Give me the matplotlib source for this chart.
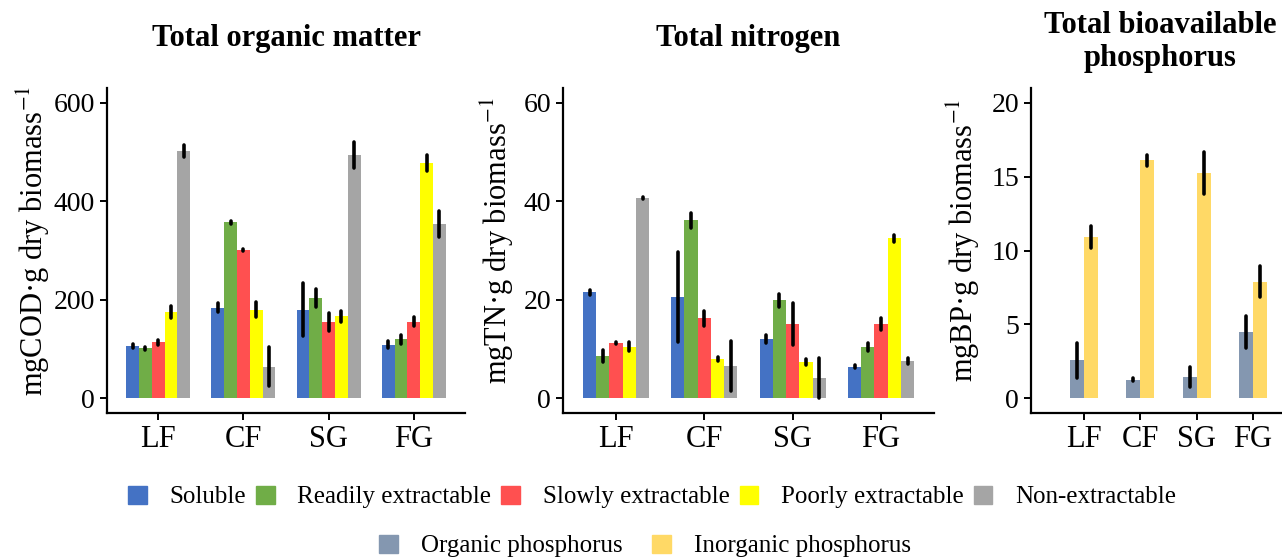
import matplotlib
matplotlib.use("Agg")
import matplotlib.pyplot as plt
from matplotlib.patches import Patch
import numpy as np

plt.rcParams["font.family"] = ["Liberation Serif", "DejaVu Serif"]
plt.rcParams["mathtext.fontset"] = "stix"

sites = ["LF", "CF", "SG", "FG"]
fractions = ["Soluble", "Readily extractable", "Slowly extractable",
             "Poorly extractable", "Non-extractable"]
fraction_colors = ["#4472C4", "#70AD47", "#FF5050", "#FFFF00", "#A5A5A5"]

# rows = fractions, columns = sites
cod_mean = [
    [106, 184, 180, 109],
    [101, 357, 204, 120],
    [114, 301, 155, 155],
    [175, 180, 166, 478],
    [502, 64, 494, 354],
]
cod_err = [
    [4, 9.5, 54, 7],
    [3, 3, 18.5, 9],
    [5, 3, 19, 9],
    [12, 16, 11, 16],
    [13, 40, 26, 26],
]
tn_mean = [
    [21.5, 20.5, 12.1, 6.35],
    [8.6, 36.1, 19.9, 10.4],
    [11.2, 16.2, 15.1, 15.1],
    [10.5, 7.9, 7.3, 32.5],
    [40.7, 6.6, 4.1, 7.5],
]
tn_err = [
    [0.5, 9.1, 0.8, 0.3],
    [1.15, 1.6, 1.35, 0.85],
    [0.2, 1.6, 4.2, 1.2],
    [0.9, 0.4, 0.6, 0.7],
    [0.2, 5.1, 4.1, 0.65],
]

p_forms = ["Organic phosphorus", "Inorganic phosphorus"]
p_colors = ["#8497B0", "#FFD966"]
bp_mean = [
    [2.57, 1.24, 1.44, 4.48],
    [10.92, 16.1, 15.25, 7.9],
]
bp_err = [
    [1.17, 0.1, 0.7, 1.08],
    [0.75, 0.37, 1.45, 1.08],
]

W, H = 1282, 560
fig = plt.figure(figsize=(W / 100, H / 100), dpi=100)


def make_axes(left, right, top=88, bottom=413):
    return fig.add_axes([left / W, (H - bottom) / H, (right - left) / W, (bottom - top) / H])


def style(ax, ylim, yticks, ylabel, label_x, xlim=(-0.6, 3.6)):
    ax.set_xlim(*xlim)
    ax.set_ylim(*ylim)
    ax.set_yticks(yticks)
    ax.set_xticks(range(len(sites)))
    ax.set_xticklabels(sites)
    for s in ["top", "right"]:
        ax.spines[s].set_visible(False)
    for s in ["left", "bottom"]:
        ax.spines[s].set_linewidth(1.6)
    ax.tick_params(axis="y", labelsize=20, length=5, width=1.4, colors="black")
    ax.tick_params(axis="x", labelsize=22, length=5, width=1.4, colors="black")
    ax.set_ylabel(ylabel, fontsize=22)
    # label_x: right edge of the rotated label, in axes fraction
    ax.yaxis.set_label_coords(label_x, 0.53)


def draw_group(ax, means, errs, colors, total_width):
    n = len(means)
    bw = total_width / n
    x = np.arange(len(sites))
    for i in range(n):
        pos = x + (i - (n - 1) / 2) * bw
        m = np.array(means[i])
        e = np.array(errs[i])
        ax.bar(pos, m, width=bw, color=colors[i], linewidth=0, zorder=2)
        lc = ax.vlines(pos, m - e, m + e, colors="black", linewidth=2.6, zorder=3)
        lc.set_capstyle("round")


ax1 = make_axes(107, 465)
draw_group(ax1, cod_mean, cod_err, fraction_colors, 0.75)
style(ax1, (-30, 630), [0, 200, 400, 600], "mgCOD·g dry biomass$^{-1}$", -0.155)
ax1.set_title("Total organic matter", fontsize=22, fontweight="bold", pad=30)

ax2 = make_axes(563, 934)
draw_group(ax2, tn_mean, tn_err, fraction_colors, 0.75)
style(ax2, (-3, 63), [0, 20, 40, 60], "mgTN·g dry biomass$^{-1}$", -0.127)
ax2.set_title("Total nitrogen", fontsize=22, fontweight="bold", pad=30)

ax3 = make_axes(1031, 1282)
draw_group(ax3, bp_mean, bp_err, p_colors, 0.5)
style(ax3, (-1, 21), [0, 5, 10, 15, 20], "mgBP·g dry biomass$^{-1}$", -0.195,
      xlim=(-0.946, 3.52))
fig.text(1160 / W, 1 - 42 / H, "Total bioavailable\nphosphorus", fontsize=22,
         fontweight="bold", ha="center", va="center", linespacing=1.15)

h1 = [Patch(color=c, label=l) for c, l in zip(fraction_colors, fractions)]
fig.legend(handles=h1, loc="center", bbox_to_anchor=(652 / W, 1 - 497 / H), ncol=5,
           frameon=False, fontsize=18, handlelength=0.75, handleheight=0.75,
           handletextpad=0.9, columnspacing=0.4)
h2 = [Patch(color=c, label=l) for c, l in zip(p_colors, p_forms)]
fig.legend(handles=h2, loc="center", bbox_to_anchor=(645 / W, 1 - 546 / H), ncol=2,
           frameon=False, fontsize=18, handlelength=0.75, handleheight=0.75,
           handletextpad=0.9, columnspacing=1.2)

fig.savefig("out.png", dpi=100)
